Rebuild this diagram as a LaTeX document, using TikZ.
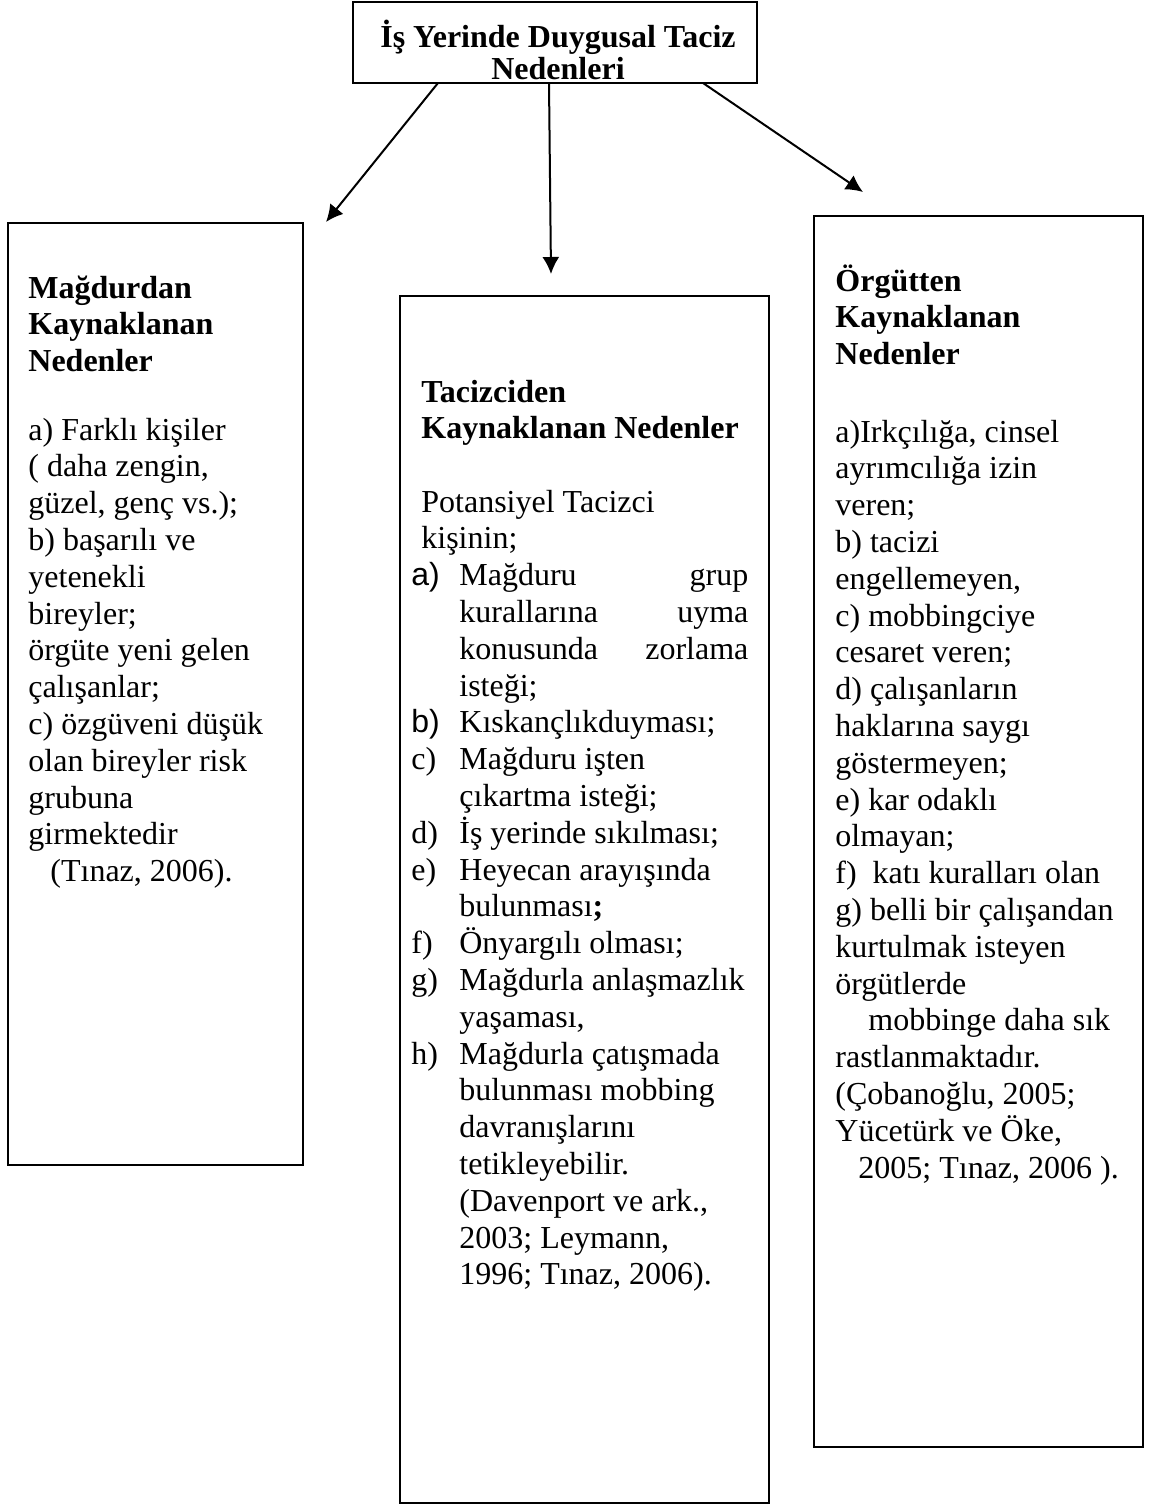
\documentclass[tikz,border=0pt]{standalone}
\usepackage{fontspec}
\setmainfont{Liberation Serif}
\newfontfamily\sansfont{Liberation Sans}
\usetikzlibrary{arrows.meta}
\setlength{\parindent}{0pt}

\tikzset{
  box/.style={draw, line width=1.2pt, rectangle, inner sep=0pt, outer sep=0pt, anchor=north west},
  txt/.style={inner sep=0pt, anchor=base west, align=flush left, text width=135pt, font=\fontsize{16}{18.4}\selectfont},
  head/.style={txt, font=\fontsize{16}{18.4}\selectfont\bfseries},
  arr/.style={line width=1pt, -{Latex[length=8.5pt,width=8.5pt]}},
}
\newcommand{\itemlab}[1]{\makebox[24pt][l]{#1}}
\newcommand{\itemind}{\hspace*{24pt}}

\begin{document}
\begin{tikzpicture}[x=0.5pt, y=-0.5pt]
  \useasboundingbox (0,0) rectangle (1152,1505);
  % boxes
  \node[box, minimum width=202pt, minimum height=40.5pt] (top) at (353,2) {};
  \node[box, minimum width=147.5pt, minimum height=471pt] (left) at (8,223) {};
  \node[box, minimum width=184.5pt, minimum height=603.5pt] (mid) at (400,296) {};
  \node[box, minimum width=164.5pt, minimum height=615.5pt] (right) at (814,216) {};

  % title
  \node[inner sep=0pt, anchor=base, align=flush center, text width=202pt, font=\fontsize{16}{16}\selectfont\bfseries]
    (topText) at (558,47) {İş Yerinde Duygusal Taciz\\Nedenleri};

  % left column
  \node[head] (leftHead) at (28,298) {Mağdurdan\\Kaynaklanan\\Nedenler};
  \node[txt] (leftBody) at (28,440) {a) Farklı kişiler\\(\ daha zengin,\\güzel, genç vs.);\\b) başarılı ve\\yetenekli\\bireyler;\\örgüte yeni gelen\\çalışanlar;\\c) özgüveni düşük\\olan bireyler risk\\grubuna\\girmektedir\\\hspace*{11pt}(Tınaz, 2006).};

  % middle column
  \node[head, text width=168.5pt] (midHead) at (421,402) {Tacizciden\\Kaynaklanan Nedenler};
  \node[txt, text width=168.5pt] (midBody) at (411,512) {\hspace*{5pt}Potansiyel Tacizci\\
    \hspace*{5pt}kişinin;\\
    \itemlab{\sansfont a)}Mağduru\hfill grup\\
    \itemind kurallarına\hfill uyma\\
    \itemind konusunda\hfill zorlama\\
    \itemind isteği;\\
    \itemlab{\sansfont b)}Kıskançlıkduyması;\\
    \itemlab{c)}Mağduru işten\\
    \itemind çıkartma isteği;\\
    \itemlab{d)}İş yerinde sıkılması;\\
    \itemlab{e)}Heyecan arayışında\\
    \itemind bulunması\textbf{;}\\
    \itemlab{f)}Önyargılı olması;\\
    \itemlab{g)}Mağdurla anlaşmazlık\\
    \itemind yaşaması,\\
    \itemlab{h)}Mağdurla çatışmada\\
    \itemind bulunması mobbing\\
    \itemind davranışlarını\\
    \itemind tetikleyebilir.\\
    \itemind (Davenport ve ark.,\\
    \itemind 2003; Leymann,\\
    \itemind 1996; Tınaz, 2006).};

  % right column
  \node[head, text width=150pt] (rightHead) at (835,291) {Örgütten\\Kaynaklanan\\Nedenler};
  \node[txt, text width=150pt] (rightBody) at (835,442) {a)Irkçılığa, cinsel\\ayrımcılığa izin\\veren;\\b) tacizi\\engellemeyen,\\c) mobbingciye\\cesaret veren;\\d) çalışanların\\haklarına saygı\\göstermeyen;\\e) kar odaklı\\olmayan;\\f)\ \ katı kuralları olan\\g) belli bir çalışandan\\kurtulmak isteyen\\örgütlerde\\\hspace*{16.5pt}mobbinge daha sık\\rastlanmaktadır.\\(Çobanoğlu, 2005;\\Yücetürk ve Öke,\\\hspace*{11.5pt}2005; Tınaz, 2006 ).};

  % arrows
  \coordinate (tipL) at (326,222);
  \coordinate (tipM) at (551,274);
  \coordinate (tipR) at (863,192);
  \draw[arr] ([xshift=42.5pt]top.south west) -- (tipL);
  \draw[arr] ([xshift=98pt]top.south west) -- (tipM);
  \draw[arr] ([xshift=175pt]top.south west) -- (tipR);
\end{tikzpicture}
\end{document}
